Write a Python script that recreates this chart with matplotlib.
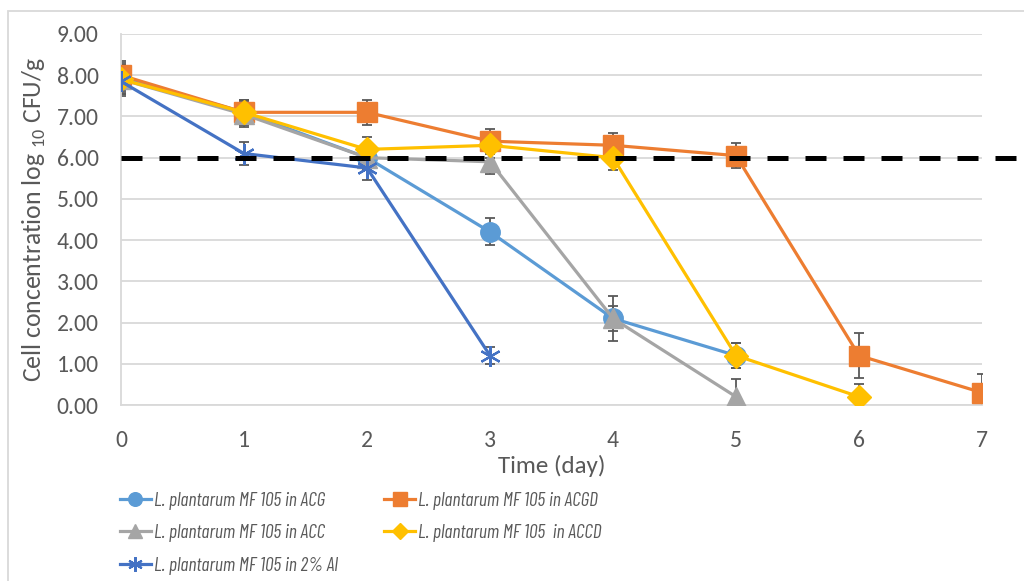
import matplotlib
matplotlib.use("Agg")
import matplotlib.pyplot as plt
from matplotlib.patches import Rectangle

plt.rcParams['font.family'] = ['Carlito', 'DejaVu Sans']
plt.rcParams['mathtext.fontset'] = 'custom'
plt.rcParams['mathtext.rm'] = 'Carlito'

days = [0, 1, 2, 3, 4, 5, 6, 7]

acg = [7.95, 7.1, 6.0, 4.2, 2.1, 1.2]
acg_err = [0.35, 0.3, 0.3, 0.33, 0.3, 0.3]
acgd = [8.0, 7.1, 7.1, 6.4, 6.3, 6.05, 1.2, 0.3]
acgd_err = [0.35, 0.3, 0.3, 0.3, 0.3, 0.3, 0.55, 0.45]
acc = [7.9, 7.05, 6.0, 5.9, 2.1, 0.2]
acc_err = [0.35, 0.3, 0.3, 0.3, 0.55, 0.43]
accd = [7.9, 7.1, 6.2, 6.3, 6.0, 1.2, 0.2]
accd_err = [0.35, 0.3, 0.3, 0.3, 0.3, 0.3, 0.3]
al = [7.85, 6.1, 5.75, 1.2]
al_err = [0.35, 0.28, 0.3, 0.2]

labels = ["L. plantarum MF 105 in ACG",
          "L. plantarum MF 105 in ACGD",
          "L. plantarum MF 105 in ACC",
          "L. plantarum MF 105  in ACCD",
          "L. plantarum MF 105 in 2% Al"]
threshold = 6.0
yticks = [0, 1, 2, 3, 4, 5, 6, 7, 8, 9]

fig = plt.figure(figsize=(10.24, 5.81), dpi=100)
ax = fig.add_axes([121/1024, 1-405/581, (982-121)/1024, (405-34)/581])

err_color = '#595959'
series = [
    (acg, acg_err, '#5B9BD5', 'o', 14, labels[0]),
    (acgd, acgd_err, '#ED7D31', 's', 14, labels[1]),
    (acc, acc_err, '#A5A5A5', '^', 14, labels[2]),
    (accd, accd_err, '#FFC000', 'D', 12, labels[3]),
    (al, al_err, '#4472C4', (6, 2, 0), 15, labels[4]),
]
handles = {}
for vals, errs, col, mk, ms, lab in series:
    x = days[:len(vals)]
    ax.errorbar(x, vals, yerr=errs, fmt='none', ecolor=err_color,
                elinewidth=1.3, capsize=3.6, capthick=1.3, zorder=2)
    mew = 1.6 if isinstance(mk, tuple) else 1
    h, = ax.plot(x, vals, color=col, lw=2.3, marker=mk, markersize=ms,
                 markerfacecolor=col, markeredgecolor=col, markeredgewidth=mew,
                 label=lab, zorder=3)
    handles[lab] = h

ax.plot([0, 7.3], [threshold, threshold], color='black', lw=3.6,
        linestyle=(0, (4.2, 3.4)), clip_on=False, zorder=4)

ax.set_xlim(0, 7)
ax.set_ylim(0, 9)
ax.set_xticks(days)
ax.set_yticks(yticks)
ax.set_yticklabels([f"{v:.2f}" for v in yticks])
ax.tick_params(axis='both', length=0, labelsize=17, colors='#595959')
ax.tick_params(axis='y', pad=16)
ax.tick_params(axis='x', pad=18)
ax.grid(axis='y', color='#D9D9D9', lw=1.3)
ax.set_axisbelow(True)
for s in ['top', 'right']:
    ax.spines[s].set_visible(False)
for s in ['left', 'bottom']:
    ax.spines[s].set_color('#D9D9D9')
    ax.spines[s].set_linewidth(1.3)

ax.set_xlabel('Time (day)', fontsize=18, color='#595959', labelpad=3)
ax.set_ylabel('Cell concentration log $_{10}$ CFU/g', fontsize=18.5,
              color='#595959', labelpad=6)

order = [labels[0], labels[2], labels[4], labels[1], labels[3]]
leg = fig.legend([handles[l] for l in order], order, ncol=2,
                 loc='upper left', bbox_to_anchor=(102/1024, 1-474/581),
                 frameon=False, handlelength=1.6,
                 prop={'family': ['Barlow Condensed', 'Carlito'], 'size': 14,
                       'style': 'italic'},
                 handletextpad=0.15, columnspacing=2.4, labelspacing=0.75,
                 markerscale=0.7)
for t in leg.get_texts():
    t.set_color('#595959')

fig.patches.append(Rectangle((8/1024, -0.1), 1.2, 1 - 11/581 + 0.1,
                             transform=fig.transFigure, fill=False,
                             edgecolor='#D9D9D9', lw=1.3))

fig.savefig('out.png', dpi=100)
